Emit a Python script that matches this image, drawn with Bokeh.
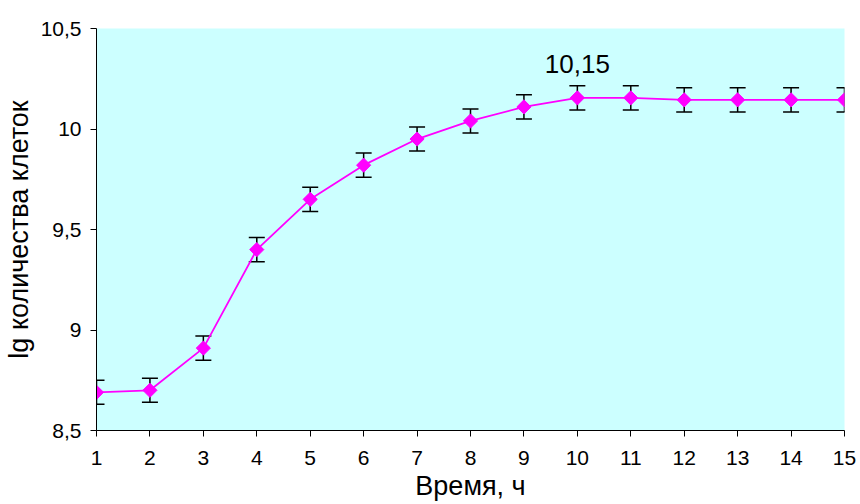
import math
from bokeh.plotting import figure
from bokeh.models import Range1d, FixedTicker, Whisker, TeeHead, ColumnDataSource
from bokeh.core.properties import value
from bokeh.embed import file_html
from bokeh.resources import INLINE

hours = [1, 2, 3, 4, 5, 6, 7, 8, 9, 10, 11, 12, 13, 14, 15]
lg_cells = [8.69, 8.70, 8.91, 9.40, 9.65, 9.82, 9.95, 10.04, 10.11, 10.155, 10.155, 10.145, 10.145, 10.145, 10.145]
err = [0.06] * 15
y_ticks = [8.5, 9.0, 9.5, 10.0, 10.5]
y_tick_labels = ["8,5", "9", "9,5", "10", "10,5"]
peak_label = "10,15"
peak_hour = 10

FONT = "Liberation Sans"

src = ColumnDataSource(dict(
    x=hours, y=lg_cells,
    lo=[v - e for v, e in zip(lg_cells, err)],
    hi=[v + e for v, e in zip(lg_cells, err)],
))

p = figure(width=860, height=504, output_backend="svg", toolbar_location=None,
           x_range=Range1d(1, 15), y_range=Range1d(8.5, 10.5),
           min_border_left=96, min_border_right=16, min_border_top=28, min_border_bottom=74)
p.background_fill_color = "#CCFFFF"
p.border_fill_color = "white"
p.outline_line_color = None
p.xgrid.grid_line_color = None
p.ygrid.grid_line_color = None

p.xaxis.ticker = FixedTicker(ticks=hours)
p.yaxis.ticker = FixedTicker(ticks=y_ticks)
p.yaxis.major_label_overrides = {t: l for t, l in zip(y_ticks, y_tick_labels)}
for ax in (p.xaxis, p.yaxis):
    ax.axis_line_color = "black"
    ax.axis_line_width = 1
    ax.major_tick_line_color = "black"
    ax.major_tick_out = 6
    ax.major_tick_in = 0
    ax.minor_tick_line_color = None
    ax.major_label_text_font = FONT
    ax.major_label_text_font_size = "21px"
    ax.major_label_text_color = "black"
    ax.axis_label_text_font = FONT
    ax.axis_label_text_font_size = "27px"
    ax.axis_label_text_font_style = "normal"
    ax.axis_label_text_color = "black"
p.xaxis.axis_label = "Время, ч"
p.yaxis.axis_label = "lg количества клеток"
p.xaxis.major_label_standoff = 14
p.yaxis.major_label_standoff = 9
p.xaxis.axis_label_standoff = 3
p.yaxis.axis_label_standoff = 4

p.line("x", "y", source=src, line_color="#FF00FF", line_width=1.8)
w = Whisker(source=src, base="x", lower="lo", upper="hi",
            line_color="black", line_width=1.5,
            upper_head=TeeHead(size=16, line_color="black", line_width=1.5),
            lower_head=TeeHead(size=16, line_color="black", line_width=1.5))
p.add_layout(w)
p.scatter("x", "y", source=src, marker="square", size=10, angle=math.pi / 4,
          fill_color="#FF00FF", line_color="#FF00FF", line_width=1)

p.text(x=[peak_hour], y=[lg_cells[hours.index(peak_hour)]], text=[peak_label],
       text_font=value(FONT), text_font_size="26px", text_color="black",
       text_align="center", text_baseline="alphabetic", y_offset=-34)

open("out.html", "w").write(file_html(p, INLINE))
